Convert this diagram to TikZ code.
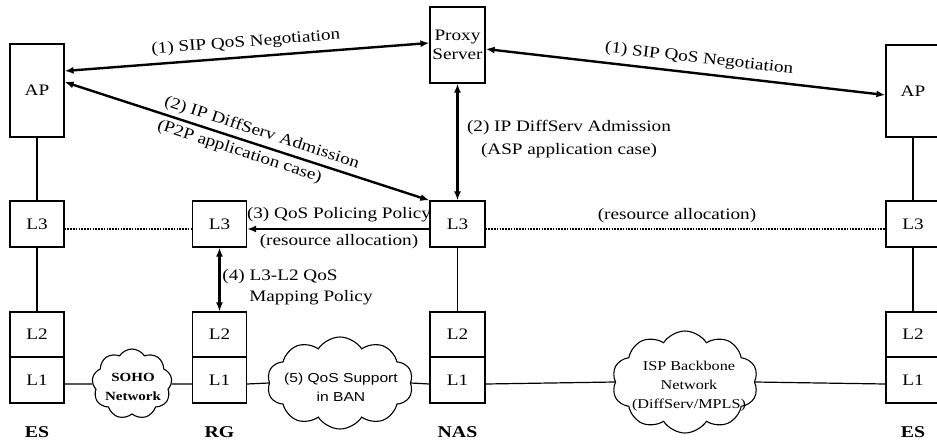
\documentclass[tikz,border=0pt]{standalone}
\usepackage{fontspec}
\setmainfont{Liberation Serif}[FakeStretch=1.2]
\newfontfamily\cloudsans{Liberation Sans}[FakeStretch=1.2]
\usetikzlibrary{arrows.meta,shapes.symbols}
\newcommand{\mainsz}{\fontsize{16}{23}\selectfont}
\newcommand{\proxysz}{\fontsize{16}{19}\selectfont}
\newcommand{\smallsz}{\fontsize{13.5}{19}\selectfont}
\begin{document}
\begin{tikzpicture}[x=1pt,y=-1pt,
  box/.style={draw, line width=1.2pt, minimum width=54pt, minimum height=46pt, inner sep=0pt, font=\mainsz},
  thin/.style={line width=1.2pt},
  dotline/.style={line width=2.2pt, dash pattern=on 1.6pt off 1.2pt},
  biarrow/.style={line width=2.4pt, {Latex[length=9pt,width=7pt]}-{Latex[length=9pt,width=7pt]}},
  onearrow/.style={line width=2.4pt, -{Latex[length=9pt,width=7pt]}},
  lbl/.style={font=\mainsz, inner sep=1pt},
  site/.style={font=\fontsize{16.5}{19}\selectfont\bfseries, inner sep=0pt},
  cl/.style={cloud, draw, line width=1.1pt, cloud puffs=10, cloud puff arc=115, inner sep=0pt}
]
\useasboundingbox (0,0) rectangle (937,447);
\fill[white] (0,0) rectangle (937,447);

% left ES column
\node[box, minimum height=93pt] (esAP) at (37,90.5) {AP};
\node[box] (esL3) at (37,224) {L3};
\node[box, minimum height=45pt] (esL2) at (37,334.5) {L2};
\node[box] (esL1) at (37,380) {L1};
\node[site] (esT) at (37,432) {ES};

% RG column
\node[box] (rgL3) at (219.5,224) {L3};
\node[box, minimum height=45pt] (rgL2) at (219.5,334.5) {L2};
\node[box] (rgL1) at (219.5,380) {L1};
\node[site] (rgT) at (219.5,432) {RG};

% NAS column
\node[box, minimum width=55pt, minimum height=76pt, align=center, font=\proxysz] (proxy) at (457.5,45) {Proxy\\Server};
\node[box, minimum width=55pt] (nasL3) at (457.5,224) {L3};
\node[box, minimum width=55pt, minimum height=45pt] (nasL2) at (457.5,334.5) {L2};
\node[box, minimum width=55pt] (nasL1) at (457.5,380) {L1};
\node[site] (nasT) at (457.5,432) {NAS};

% right ES column
\node[box, minimum height=92pt] (rAP) at (913,91) {AP};
\node[box] (rL3) at (913,224) {L3};
\node[box, minimum height=45pt] (rL2) at (913,334.5) {L2};
\node[box] (rL1) at (913,380) {L1};
\node[site] (rT) at (913,432) {ES};

% clouds
\node[cl, cloud puffs=9, minimum width=80pt, minimum height=70pt] (soho) at (132,384) {};
\node[font=\fontsize{12.5}{19}\selectfont\bfseries, align=center] (sohoT) at (133,387) {SOHO\\Network};
\node[cl, minimum width=146pt, minimum height=92pt] (ban) at (340,383) {};
\node[font=\cloudsans\fontsize{13}{19}\selectfont, align=center] (banT) at (341,387) {(5) QoS Support\\in BAN};
\node[cl, minimum width=146pt, minimum height=102pt] (isp) at (685,382) {};
\node[font=\smallsz, align=center] (ispT) at (689,386) {ISP Backbone\\Network\\(DiffServ/MPLS)};

% thin vertical lines
\draw[thin] (esAP.south) -- (esL3.north);
\draw[thin] (esL3.south) -- (esL2.north);
\draw[thin] (nasL3.south) -- (nasL2.north);
\draw[thin] (rAP.south) -- (rL3.north);
\draw[thin] (rL3.south) -- (rL2.north);

% physical links
\draw[thin] ([yshift=-4pt]esL1.east) -- (soho.west);
\draw[thin] (soho.east) -- ([yshift=-4pt]rgL1.west);
\draw[thin] ([yshift=-4pt]rgL1.east) -- (ban.west);
\draw[thin] (ban.east) -- ([yshift=-4pt]nasL1.west);
\draw[thin] ([yshift=-4pt]nasL1.east) -- (isp.west);
\draw[thin] (isp.east) -- ([yshift=-4pt]rL1.west);

% dotted L3 lines
\draw[dotline] ([yshift=-5pt]esL3.east) -- ([yshift=-5pt]rgL3.west);
\draw[dotline] ([yshift=-5pt]nasL3.east) -- ([yshift=-5pt]rL3.west);
\node[lbl] (resR) at (677,216) {(resource allocation)};

% (1) SIP QoS negotiation
\draw[biarrow] ([yshift=19.5pt]esAP.east) -- node[lbl, sloped, above=5pt] {(1) SIP QoS Negotiation} ([yshift=2pt]proxy.west);
\draw[biarrow] ([yshift=-4pt]proxy.east) -- node[lbl, sloped, above=5pt, pos=0.53] {(1) SIP QoS Negotiation} ([yshift=-4pt]rAP.west);

% (2) P2P
\draw[biarrow] ([yshift=8.5pt]esAP.east) -- node[lbl, sloped, above=3pt, pos=0.53] {(2) IP DiffServ Admission} node[lbl, sloped, below=3pt, pos=0.49] {(P2P application case)} (nasL3.north west);

% (2) ASP
\draw[biarrow] (proxy.south) -- (nasL3.north);
\node[lbl, align=center] (aspT) at (569,139) {(2) IP DiffServ Admission\\(ASP application case)};

% (3)
\draw[onearrow] ([yshift=-5pt]nasL3.west) -- ([yshift=-5pt]rgL3.east);
\node[lbl] (polT) at (339,215) {(3) QoS Policing Policy};
\node[lbl] (resL) at (339,242) {(resource allocation)};

% (4)
\draw[biarrow] (rgL3.south) -- (rgL2.north);
\node[lbl] (mapA) at (280,277) {(4) L3-L2 QoS};
\node[lbl] (mapB) at (311,298) {Mapping Policy};
\end{tikzpicture}
\end{document}
